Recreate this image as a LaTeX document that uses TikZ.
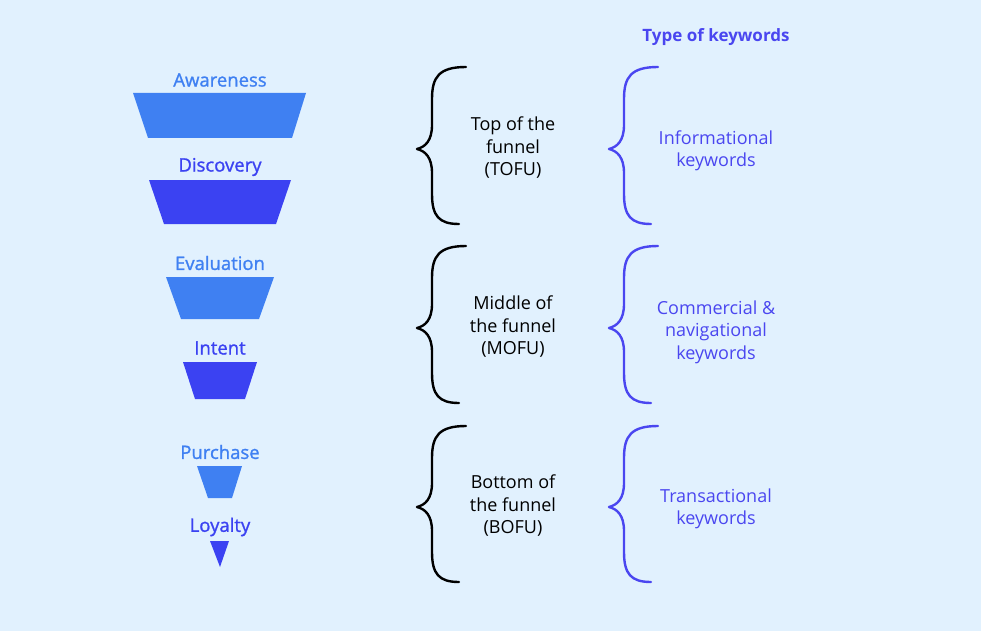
\documentclass[tikz,border=0pt]{standalone}
\usepackage{fontspec}
\setmainfont{Open Sans}
\newfontfamily\labelfont[FakeBold=1.2]{Open Sans}
\definecolor{bg}{HTML}{E1F1FE}
\definecolor{lightblue}{HTML}{3F80F2}
\definecolor{darkblue}{HTML}{3B42F2}
\definecolor{kwblue}{HTML}{4A46F0}
\newcommand\mybrace[5]{%
  \draw[bracestyle,#5] ({#1+49},#2) .. controls ({#1+22},#2) and ({#1+15},{#2+10}) .. ({#1+15},{#2+32})
    -- ({#1+15},{#3-24}) .. controls ({#1+15},{#3-8}) and ({#1+8},{#3-2}) .. (#1,#3)
    .. controls ({#1+8},{#3+2}) and ({#1+15},{#3+8}) .. ({#1+15},{#3+24})
    -- ({#1+15},{#4-30}) .. controls ({#1+15},{#4-8}) and ({#1+22},#4) .. ({#1+42},#4);}
\begin{document}
\begin{tikzpicture}[x=1pt,y=-1pt,
  lbl/.style={font=\labelfont\fontsize{18.5}{22}\selectfont, inner sep=0pt, anchor=center},
  stage/.style={font=\fontsize{18}{22.5}\selectfont, align=center, inner sep=0pt, text=black},
  kw/.style={font=\fontsize{18}{22.5}\selectfont, align=center, inner sep=0pt, text=kwblue},
  bracestyle/.style={line width=2.4pt, line cap=round, line join=round}]
\useasboundingbox (0,0) rectangle (981,631);
\fill[bg] (0,0) rectangle (981,631);
% funnel
\fill[lightblue] (133,93) -- (306,93) -- (292,138) -- (148,138) -- cycle;
\fill[darkblue] (149,180) -- (291,180) -- (276,224) -- (164,224) -- cycle;
\fill[lightblue] (166,277) -- (274,277) -- (259,319) -- (181,319) -- cycle;
\fill[darkblue] (183,362) -- (257,362) -- (245,399) -- (195,399) -- cycle;
\fill[lightblue] (197,466) -- (242,466) -- (232,498) -- (208,498) -- cycle;
\fill[darkblue] (210,541) -- (229,541) -- (220,567) -- cycle;
\node[lbl, text=lightblue] (aw) at (220,80) {Awareness};
\node[lbl, text=darkblue] (di) at (220,167) {Discovery};
\node[lbl, text=lightblue] (ev) at (220,263) {Evaluation};
\node[lbl, text=darkblue] (in) at (220,348) {Intent};
\node[lbl, text=lightblue] (pu) at (220,452) {Purchase};
\node[lbl, text=darkblue] (lo) at (220,527) {Loyalty};
% braces
\mybrace{417}{67}{149}{224}{black}
\mybrace{417}{246}{328}{403}{black}
\mybrace{417}{426}{507}{582}{black}
\mybrace{609}{67}{149}{224}{kwblue}
\mybrace{609}{246}{328}{403}{kwblue}
\mybrace{609}{426}{507}{582}{kwblue}
% texts
\node[stage] (tofu) at (513,148) {Top of the\\funnel\\(TOFU)};
\node[stage] (mofu) at (513,327) {Middle of\\the funnel\\(MOFU)};
\node[stage] (bofu) at (513,506) {Bottom of\\the funnel\\(BOFU)};
\node[kw] (k1) at (716,151) {Informational\\keywords};
\node[kw] (k2) at (716,332) {Commercial \&\\navigational\\keywords};
\node[kw] (k3) at (716,509) {Transactional\\keywords};
\node[font=\fontsize{17}{20}\selectfont\bfseries, text=kwblue, inner sep=0pt] (hd) at (716,37.5) {Type of keywords};
\end{tikzpicture}
\end{document}
